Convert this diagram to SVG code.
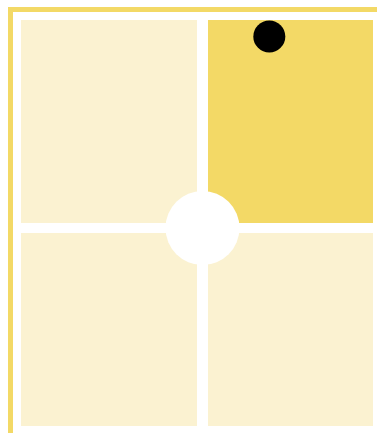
<svg xmlns="http://www.w3.org/2000/svg" width="377" height="433" viewBox="0 0 377 433">
<style>
.light{fill:#FBF2D1}
.dark{fill:#F3D966}
.frame{fill:#F3D966}
</style>
<rect width="377" height="433" fill="#FFFFFF"/>
<g id="frame">
<rect class="frame" x="8" y="7" width="369" height="5"/>
<rect class="frame" x="8" y="7" width="5" height="426"/>
</g>
<g id="q-top-left"><rect class="light" x="21" y="20" width="176" height="203"/></g>
<g id="q-top-right"><rect class="dark" x="208" y="20" width="165" height="203"/></g>
<g id="q-bottom-left"><rect class="light" x="21" y="233" width="176" height="193"/></g>
<g id="q-bottom-right"><rect class="light" x="208" y="233" width="165" height="193"/></g>
<g id="center"><circle cx="202.5" cy="228" r="37" fill="#FFFFFF"/></g>
<g id="dot"><circle cx="269.3" cy="36.5" r="16" fill="#000000"/></g>
<g id="connectors"></g>
</svg>
